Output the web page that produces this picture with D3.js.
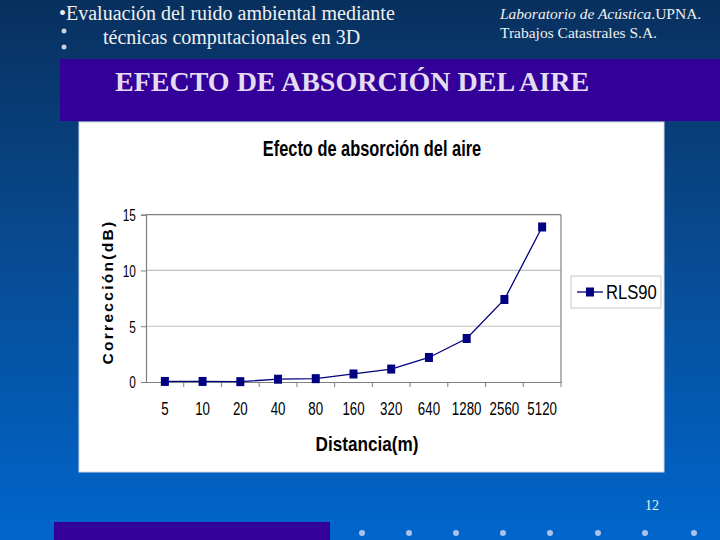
<!DOCTYPE html>
<html>
<head>
<meta charset="utf-8">
<script src="https://cdn.jsdelivr.net/npm/d3@7"></script>
<style>
  body { margin: 0; padding: 0; overflow: hidden; }
  svg { display: block; }
</style>
</head>
<body>
<div id="slide"></div>
<script>
// chart data
const distances = ["5", "10", "20", "40", "80", "160", "320", "640", "1280", "2560", "5120"];
const rls90 = [0.05, 0.05, 0.03, 0.25, 0.3, 0.72, 1.16, 2.2, 3.9, 7.4, 13.9];
const yTicks = [0, 5, 10, 15];
const seriesName = "RLS90";

const W = 720, H = 540;
const sans = "'Liberation Sans', Arial, sans-serif";
const serif = "'Liberation Serif', 'Times New Roman', serif";

const svg = d3.select("#slide")
    .append("svg")
    .attr("width", W)
    .attr("height", H);

// condensed text (no narrow font installed, so squeeze horizontally)
function narrowText(parent, tx, ty, sx, str) {
    return parent.append("text")
        .attr("transform", `translate(${tx},${ty}) scale(${sx},1)`)
        .style("font-family", sans)
        .text(str);
}

// background gradient
const defs = svg.append("defs");
const grad = defs.append("linearGradient")
    .attr("id", "bg")
    .attr("x1", 0).attr("y1", 0).attr("x2", 0).attr("y2", 1);
grad.append("stop").attr("offset", "0%").attr("stop-color", "#08305e");
grad.append("stop").attr("offset", "45%").attr("stop-color", "#084a90");
grad.append("stop").attr("offset", "100%").attr("stop-color", "#0066cc");

svg.append("rect").attr("width", W).attr("height", H).attr("fill", "url(#bg)");

// header texts
const hdr = svg.append("g").attr("fill", "#f0f0f0").style("font-family", serif);
hdr.append("text").attr("x", 59).attr("y", 20).style("font-size", "20px")
    .text("•Evaluación del ruido ambiental mediante");
hdr.append("text").attr("x", 103).attr("y", 44).style("font-size", "20px")
    .text("técnicas computacionales en 3D");
[31, 47].forEach(cy => hdr.append("circle").attr("cx", 64).attr("cy", cy).attr("r", 2.5).attr("fill", "#c8d0e0"));

const right = hdr.append("text").attr("x", 500).attr("y", 19).style("font-size", "15.5px");
right.append("tspan").style("font-style", "italic").text("Laboratorio de Acústica");
right.append("tspan").text(".UPNA.");
hdr.append("text").attr("x", 500).attr("y", 38).style("font-size", "15.5px")
    .text("Trabajos Catastrales S.A.");

// purple title band
svg.append("rect").attr("x", 60).attr("y", 59).attr("width", 660).attr("height", 62).attr("fill", "#330099");
svg.append("text").attr("x", 115).attr("y", 91)
    .attr("fill", "#e4dcf2")
    .style("font-family", serif).style("font-size", "28px").style("font-weight", "bold")
    .text("EFECTO DE ABSORCIÓN DEL AIRE");

// chart area
svg.append("rect").attr("x", 79).attr("y", 122).attr("width", 585).attr("height", 350)
    .attr("fill", "#ffffff").attr("stroke", "#d0d8e8").attr("stroke-width", 1);

const plot = { left: 146, right: 561, top: 214.7, bottom: 382 };

const x = d3.scaleBand()
    .domain(distances)
    .range([plot.left, plot.right]);

const y = d3.scaleLinear()
    .domain([0, 15])
    .range([plot.bottom, plot.top]);

// gridlines
svg.append("g")
    .selectAll("line")
    .data(yTicks.filter(d => d > 0))
    .join("line")
    .attr("x1", plot.left).attr("x2", plot.right)
    .attr("y1", d => y(d)).attr("y2", d => y(d))
    .attr("stroke", d => d === 15 ? "#808080" : "#c0c0c0")
    .attr("stroke-width", 1.2);

// right border of plot
svg.append("line")
    .attr("x1", plot.right).attr("x2", plot.right)
    .attr("y1", plot.top).attr("y2", plot.bottom)
    .attr("stroke", "#808080").attr("stroke-width", 1.2);

// y axis
const yAxis = svg.append("g")
    .attr("transform", `translate(${plot.left},0)`)
    .call(d3.axisLeft(y).tickValues(yTicks).tickSize(5).tickPadding(9));
yAxis.select(".domain").attr("stroke", "#808080").attr("stroke-width", 1.2);
yAxis.selectAll(".tick line").attr("stroke", "#808080");
yAxis.selectAll(".tick text")
    .attr("fill", "#000")
    .attr("transform", "scale(0.72,1)")
    .attr("dy", "0.36em")
    .style("font-family", sans)
    .style("font-size", "16.5px");

// x axis with ticks between categories
const xAxis = svg.append("g")
    .attr("transform", `translate(0,${plot.bottom})`)
    .call(d3.axisBottom(x).tickSize(0).tickPadding(20));
xAxis.select(".domain").attr("stroke", "#808080").attr("stroke-width", 1.2);
xAxis.selectAll(".tick text")
    .attr("fill", "#000")
    .attr("transform", "scale(0.72,1)")
    .style("font-family", sans)
    .style("font-size", "18.5px");
svg.append("g")
    .selectAll("line")
    .data(distances)
    .join("line")
    .attr("x1", d => x(d) + x.bandwidth())
    .attr("x2", d => x(d) + x.bandwidth())
    .attr("y1", plot.bottom).attr("y2", plot.bottom + 5)
    .attr("stroke", "#808080");

// series line
const line = d3.line()
    .x((d, i) => x(distances[i]) + x.bandwidth() / 2)
    .y(d => y(d));

svg.append("path")
    .datum(rls90)
    .attr("fill", "none")
    .attr("stroke", "#000080")
    .attr("stroke-width", 1.3)
    .attr("d", line);

svg.append("g")
    .selectAll("rect")
    .data(rls90)
    .join("rect")
    .attr("x", (d, i) => x(distances[i]) + x.bandwidth() / 2 - 4)
    .attr("y", d => y(d) - 4.5)
    .attr("width", 8)
    .attr("height", 9)
    .attr("fill", "#000080");

// titles
narrowText(svg, 372, 156, 0.745, "Efecto de absorción del aire")
    .attr("text-anchor", "middle")
    .style("font-size", "22px").style("font-weight", "bold");

narrowText(svg, 367, 451, 0.88, "Distancia(m)")
    .attr("text-anchor", "middle")
    .style("font-size", "19.5px").style("font-weight", "bold");

svg.append("text")
    .attr("transform", `translate(113,292) rotate(-90)`)
    .attr("text-anchor", "middle")
    .style("font-family", sans)
    .style("font-size", "15.5px").style("font-weight", "bold")
    .style("letter-spacing", "2.3px")
    .text("Corrección(dB)");

// legend
const lg = svg.append("g");
lg.append("rect").attr("x", 571).attr("y", 276).attr("width", 90).attr("height", 32)
    .attr("fill", "#fff").attr("stroke", "#c8c8c8");
lg.append("line").attr("x1", 577).attr("x2", 603).attr("y1", 292).attr("y2", 292)
    .attr("stroke", "#000080").attr("stroke-width", 1.3);
lg.append("rect").attr("x", 586).attr("y", 287.5).attr("width", 8).attr("height", 9).attr("fill", "#000080");
narrowText(lg, 606, 299, 0.83, seriesName)
    .style("font-size", "20px");

// page number and footer
svg.append("text").attr("x", 645).attr("y", 510)
    .attr("fill", "#f0f0f0")
    .style("font-family", serif).style("font-size", "14px")
    .text("12");

svg.append("rect").attr("x", 54).attr("y", 522).attr("width", 276).attr("height", 18).attr("fill", "#330099");
const dots = [362, 409, 456, 503, 550, 598, 645, 694];
svg.append("g").selectAll("circle")
    .data(dots)
    .join("circle")
    .attr("cx", d => d).attr("cy", 533).attr("r", 3)
    .attr("fill", "#a8c4ec");
</script>
</body>
</html>
